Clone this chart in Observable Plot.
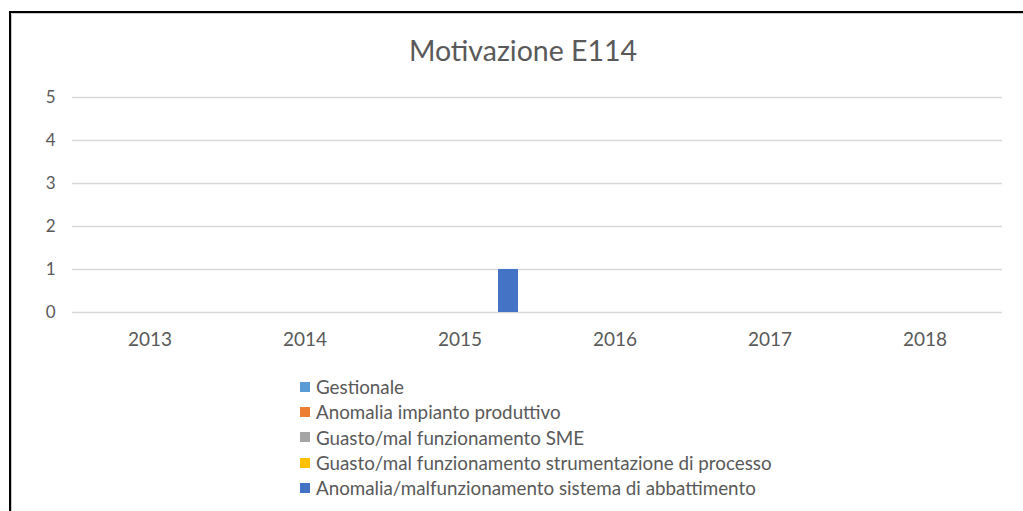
<!DOCTYPE html>
<html>
<head>
<meta charset="utf-8">
<script src="https://cdn.jsdelivr.net/npm/d3@7"></script>
<script src="https://cdn.jsdelivr.net/npm/@observablehq/plot@0.6"></script>
<style>
  html, body { margin: 0; padding: 0; background: #fff; }
  body { width: 1023px; height: 511px; overflow: hidden; position: relative; font-family: Lato, "Open Sans", sans-serif; color: #595959; }
  #frame { position: absolute; left: 9px; top: 11px; width: 1040px; height: 600px; border-left: 2px solid #000; border-top: 2px solid #000; box-shadow: inset 1px 1px 0 #c8c8c8; }
  #title { position: absolute; top: 33px; left: 0; width: 1046px; text-align: center; font-size: 28.5px; line-height: 34px; }
  #chart { position: absolute; left: 0; top: 60px; }
  #legend { position: absolute; left: 300px; top: 374px; font-size: 18.8px; }
  .row { height: 25.3px; line-height: 25.3px; display: flex; align-items: center; white-space: nowrap; }
  .sw { width: 10px; height: 10px; margin-right: 6px; flex: none; }
</style>
</head>
<body>
<div id="frame"></div>
<div id="title">Motivazione E114</div>
<div id="chart"></div>
<div id="legend"></div>
<script>
const years = ["2013", "2014", "2015", "2016", "2017", "2018"];
const series = [
  "Gestionale",
  "Anomalia impianto produttivo",
  "Guasto/mal funzionamento SME",
  "Guasto/mal funzionamento strumentazione di processo",
  "Anomalia/malfunzionamento sistema di abbattimento"
];
const colors = ["#5B9BD5", "#ED7D31", "#A5A5A5", "#FFC000", "#4472C4"];
const gestionale = [0, 0, 0, 0, 0, 0];
const anomaliaImpianto = [0, 0, 0, 0, 0, 0];
const guastoSME = [0, 0, 0, 0, 0, 0];
const guastoStrumentazione = [0, 0, 0, 0, 0, 0];
const anomaliaAbbattimento = [0, 0, 1, 0, 0, 0];
const yTicks = [0, 1, 2, 3, 4, 5];

const seriesValues = [gestionale, anomaliaImpianto, guastoSME, guastoStrumentazione, anomaliaAbbattimento];
const data = [];
series.forEach((s, i) => years.forEach((y, j) => data.push({year: y, series: s, value: seriesValues[i][j]})));

const chart = Plot.plot({
  width: 1023,
  height: 300,
  marginLeft: 70,
  marginRight: 20,
  marginTop: 37,
  marginBottom: 48,
  style: {fontFamily: "Lato, 'Open Sans', sans-serif", fontSize: "17px", color: "#595959", background: "transparent"},
  fx: {domain: years, padding: 0, label: null},
  x: {domain: series, axis: null, paddingInner: 0.18, paddingOuter: 0.8},
  y: {domain: [0, 5], label: null},
  color: {domain: series, range: colors},
  marks: [
    Plot.gridY({ticks: yTicks, stroke: "#d9d9d9", strokeOpacity: 1, strokeWidth: 1.5}),
    Plot.axisY({ticks: yTicks, tickFormat: "d", tickSize: 0, tickPadding: 17, label: null, fill: "#595959", fontSize: 17}),
    Plot.axisFx({anchor: "bottom", tickSize: 0, tickPadding: 20, label: null, fill: "#595959", fontSize: 19}),
    Plot.barY(data, {fx: "year", x: "series", y: "value", fill: "series"})
  ]
});
document.getElementById("chart").appendChild(chart);

const legend = document.getElementById("legend");
series.forEach((s, i) => {
  const row = document.createElement("div");
  row.className = "row";
  const sw = document.createElement("span");
  sw.className = "sw";
  sw.style.background = colors[i];
  const t = document.createElement("span");
  t.textContent = s;
  row.appendChild(sw);
  row.appendChild(t);
  legend.appendChild(row);
});
</script>
</body>
</html>
